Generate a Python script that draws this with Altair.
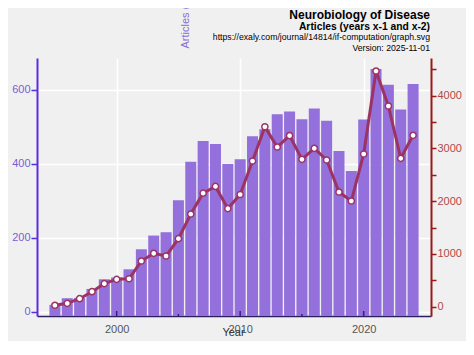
import altair as alt
import pandas as pd

years = list(range(1995, 2025))
articles = [19, 37, 38, 62, 88, 93, 115, 169, 206, 215, 301, 405, 461, 453, 399,
            412, 474, 493, 533, 541, 520, 549, 516, 434, 380, 519, 655, 613, 546, 615]
citations = [27, 64, 152, 285, 437, 519, 530, 866, 1012, 961, 1290, 1757, 2152, 2280, 1860,
             2127, 2762, 3412, 3027, 3245, 2794, 3003, 2781, 2174, 2004, 2895, 4468, 3805, 2813, 3249]

x_domain = [1993.55, 2025.45]
left_domain = [-11, 685]
right_domain = [-176, 4715]
x_label_years = [2000, 2010, 2020]
x_minor_years = [2005, 2015]
left_ticks = [0, 200, 400, 600]
right_ticks = [0, 500, 1000, 1500, 2000, 2500, 3000, 3500, 4000, 4500]

title_lines = ["Neurobiology of Disease", "Articles (years x-1 and x-2)",
               "https://exaly.com/journal/14814/if-computation/graph.svg", "Version: 2025-11-01"]

df = pd.DataFrame({"year": years, "articles": articles, "citations": citations})

W, H = 394, 258
FONT = "Liberation Sans"
BAR_C = "#9370DB"
LINE_C = "#9c3363"
LEFT_C = "#5a2ee0"
LEFT_LAB = "#7c5cd6"
RIGHT_C = "#9a1a1a"
RIGHT_LAB = "#b04a4a"

xscale = alt.Scale(domain=x_domain, nice=False, zero=False, padding=0)

bars = alt.Chart(df).mark_bar(size=11, color=BAR_C).encode(
    x=alt.X("year:Q", scale=xscale,
            axis=alt.Axis(values=x_label_years, format="d", ticks=False, grid=True,
                          gridColor="white", gridWidth=1.5, domainColor="#2e1f5e",
                          domainWidth=1.5, labelColor="#555555", labelFontSize=11,
                          labelFont=FONT, labelPadding=7, title="Year", titleFont=FONT,
                          titleFontSize=11, titleFontWeight="normal", titleColor="#333333",
                          titleX=196, titleY=16, titleBaseline="middle", titleAlign="center")),
    y=alt.Y("articles:Q", scale=alt.Scale(domain=left_domain, nice=False, zero=False),
            axis=alt.Axis(values=left_ticks, grid=True, gridColor="white", gridWidth=1.5,
                          domainColor=LEFT_C, domainWidth=2, tickColor=LEFT_C, tickSize=6,
                          tickWidth=1.5, labelColor=LEFT_LAB, labelFontSize=11, labelFont=FONT,
                          labelPadding=1, title="Articles (years x-1 and x-2)",
                          titleColor="#8a6ad8", titleFont=FONT, titleFontSize=11,
                          titleFontWeight="normal", titleAngle=270, titleAlign="left",
                          titleBaseline="middle", titleX=148, titleY=-10)),
    y2=alt.datum(left_domain[0]),
)

line = alt.Chart(df).mark_line(
    color=LINE_C, strokeWidth=3,
    point=alt.OverlayMarkDef(filled=True, fill="white", stroke=LINE_C, strokeWidth=1.5, size=38),
).encode(
    x=alt.X("year:Q", scale=xscale),
    y=alt.Y("citations:Q", scale=alt.Scale(domain=right_domain, nice=False, zero=False),
            axis=alt.Axis(orient="right", values=right_ticks, grid=False, format="d",
                          labelExpr="datum.value % 1000 == 0 ? datum.label : ''",
                          domainColor=RIGHT_C, domainWidth=2, tickColor=RIGHT_C, tickSize=5,
                          tickWidth=1.5, labelColor=RIGHT_LAB, labelFontSize=11, labelFont=FONT,
                          labelPadding=1, title="")),
)

major_ticks = alt.Chart(pd.DataFrame({"year": x_label_years})).mark_rule(
    color="#3a1a8a", strokeWidth=1.5).encode(
    x=alt.X("year:Q", scale=xscale), y=alt.value(H), y2=alt.value(H - 5))
minor_ticks = alt.Chart(pd.DataFrame({"year": x_minor_years})).mark_rule(
    color="#3a1a8a", strokeWidth=1.5).encode(
    x=alt.X("year:Q", scale=xscale), y=alt.value(H), y2=alt.value(H - 2))

def title_text(txt, yv, size, weight):
    return alt.Chart(pd.DataFrame({"t": [txt]})).mark_text(
        align="right", baseline="alphabetic", font=FONT, fontSize=size,
        fontWeight=weight, color="black").encode(
        text="t:N", x=alt.value(W - 1), y=alt.value(yv))

texts = [
    title_text(title_lines[0], -39, 12, "bold"),
    title_text(title_lines[1], -28.5, 10.3, "bold"),
    title_text(title_lines[2], -18, 8.7, "normal"),
    title_text(title_lines[3], -7, 8.7, "normal"),
]

chart = alt.layer(bars, line, major_ticks, minor_ticks, *texts).resolve_scale(
    y="independent"
).properties(
    width=W, height=H,
    background="#f0f0f0",
    padding={"left": 29, "top": 50, "right": 35, "bottom": 25},
    autosize=alt.AutoSizeParams(type="none"),
).configure_view(stroke=None)

chart.save("out.html", embed_options={"renderer": "svg", "actions": False})
